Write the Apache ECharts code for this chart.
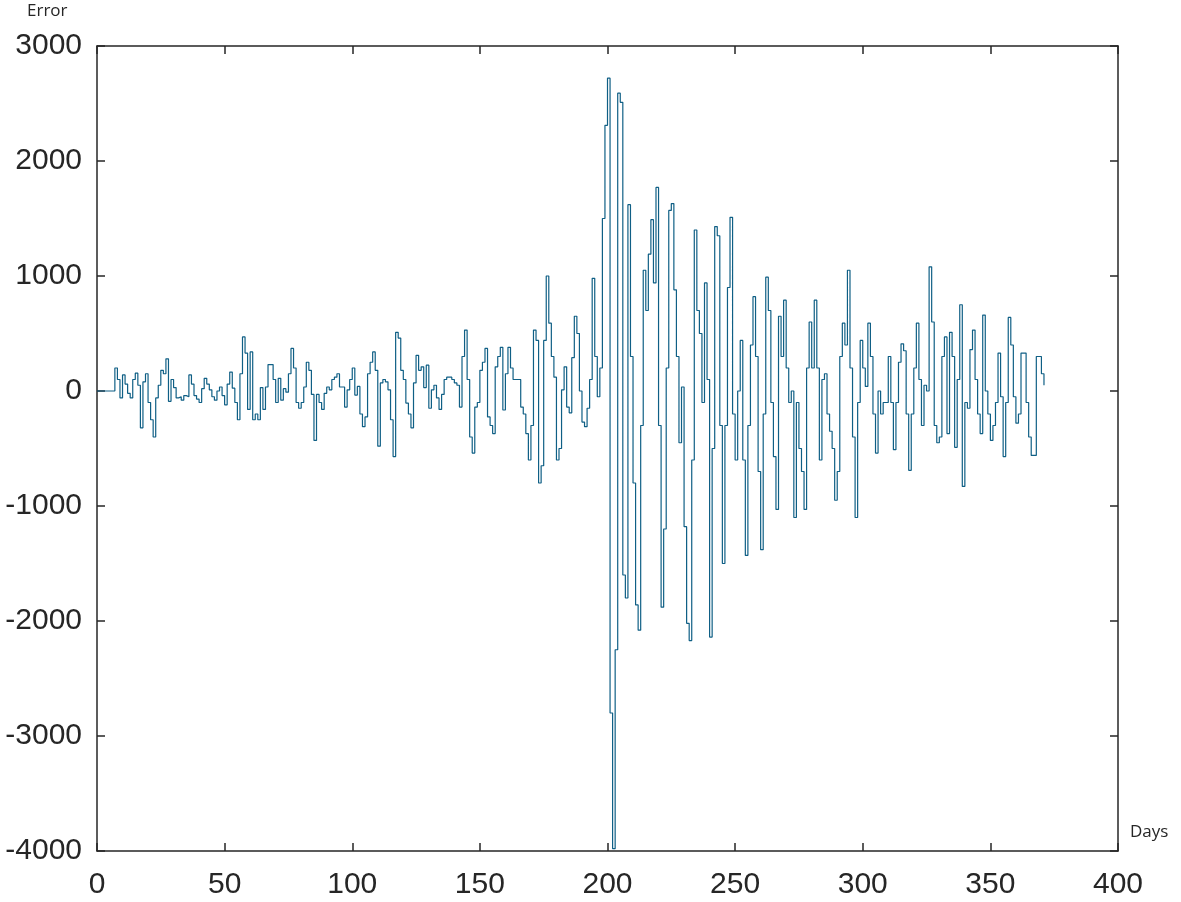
<!DOCTYPE html>
<html>
<head>
<meta charset="utf-8">
<script src="https://cdn.jsdelivr.net/npm/echarts@6/dist/echarts.min.js"></script>
<style>
html,body{margin:0;padding:0;background:#fff;}
#chart{width:1181px;height:902px;}
</style>
</head>
<body>
<div id="chart"></div>
<script>
// Error per day (day index 0..371)
const err000 = [0,0,0,0,0,0,0,200,100,-60, 140,60,-20,-60,100,155,50,-320,80,150,
  -100,-250,-400,-60,50,180,150,280,-90,100, 30,-60,-50,-80,-40,-50,140,60,-40,-70,
  -100,20,110,60,10,-50,-80,0,35,-40];
const err050 = [-120,60,165,25,-100,-250,150,470,330,-160, 340,-250,-200,-250,30,-160,35,230,230,100,
  -100,110,-80,20,-10,150,370,200,-100,-150, -100,35,250,180,-30,-430,-30,-100,-160,-20,
  35,10,100,120,150,35,35,-140,10,100];
const err100 = [200,-35,40,-200,-310,-225,150,250,340,180, -480,70,100,80,10,-250,-570,510,460,180,
  100,-105,-200,-320,70,310,180,210,30,225, -150,10,50,-60,-160,-30,100,120,120,100,
  70,50,-140,300,530,100,-400,-540,-140,-100];
const err150 = [180,250,370,-225,-300,-370,210,300,380,-165, 150,380,200,100,100,100,-140,-200,-370,-600,
  -300,530,440,-800,-650,440,1000,590,300,120, -600,-500,10,210,-140,-190,290,650,500,0,
  -270,-310,-150,100,980,300,-50,200,1500,2310];
const err200 = [2720,-2800,-3980,-2250,2590,2510,-1600,-1800,1620,300, -800,-1860,-2080,-300,1050,700,1190,1490,940,1770,
  -300,-1880,-1200,200,1570,1630,880,300,-450,35, -1180,-2020,-2170,-600,1400,700,500,-100,940,100,
  -2140,-500,1430,1350,-300,-1500,-300,900,1510,-200];
const err250 = [-600,0,440,-600,-1430,-300,400,820,300,-700, -1380,-200,990,700,-100,-570,-1030,650,300,790,
  200,-100,0,-1100,-100,-500,-700,-1030,200,600, 200,790,200,-600,100,150,-200,-350,-500,-950,
  -700,300,590,400,1050,200,-400,-1100,-100,440];
const err300 = [200,40,590,300,-200,-540,0,-200,-100,-100, 300,-100,-510,-100,250,410,350,-200,-690,-200,
  200,590,100,-300,50,0,1080,600,-300,-450, -400,300,470,-370,510,300,-490,100,750,-830,
  -100,-150,360,530,100,-200,-370,660,0,-200];
const err350 = [-430,-300,-100,330,-50,-570,-100,640,400,-50, -280,-200,330,330,-100,-400,-560,-560,300,300,
  150,50];

const xTicks = [0,50,100,150,200,250,300,350,400];
const yTicks = [-4000,-3000,-2000,-1000,0,1000,2000,3000];

const errors = [].concat(err000, err050, err100, err150, err200, err250, err300, err350);
const points = errors.map((v, i) => [i, v]);

const axisColor = '#262626';
const labelStyle = {color: '#262626', fontSize: 30, fontFamily: 'Liberation Sans, Arial, sans-serif'};
const plain = v => String(v);

const chart = echarts.init(document.getElementById('chart'), null, {renderer: 'canvas'});
chart.setOption({
  animation: false,
  backgroundColor: '#ffffff',
  grid: {left: 97, right: 63, top: 46, bottom: 51, containLabel: false},
  xAxis: [{
    type: 'value', min: xTicks[0], max: xTicks[xTicks.length-1], interval: 50, position: 'bottom',
    axisLine: {show: true, onZero: false, lineStyle: {color: axisColor, width: 1.5}},
    axisTick: {show: true, inside: true, length: 8, lineStyle: {color: axisColor, width: 1.5}},
    axisLabel: Object.assign({margin: 19, formatter: plain}, labelStyle),
    splitLine: {show: false}
  }, {
    type: 'value', min: xTicks[0], max: xTicks[xTicks.length-1], interval: 50, position: 'top',
    axisLine: {show: true, onZero: false, lineStyle: {color: axisColor, width: 1.5}},
    axisTick: {show: true, inside: true, length: 8, lineStyle: {color: axisColor, width: 1.5}},
    axisLabel: {show: false}, splitLine: {show: false}
  }],
  yAxis: [{
    type: 'value', min: yTicks[0], max: yTicks[yTicks.length-1], interval: 1000, position: 'left',
    axisLine: {show: true, onZero: false, lineStyle: {color: axisColor, width: 1.5}},
    axisTick: {show: true, inside: true, length: 8, lineStyle: {color: axisColor, width: 1.5}},
    axisLabel: Object.assign({margin: 15, formatter: plain}, labelStyle),
    splitLine: {show: false}
  }, {
    type: 'value', min: yTicks[0], max: yTicks[yTicks.length-1], interval: 1000, position: 'right',
    axisLine: {show: true, onZero: false, lineStyle: {color: axisColor, width: 1.5}},
    axisTick: {show: true, inside: true, length: 8, lineStyle: {color: axisColor, width: 1.5}},
    axisLabel: {show: false}, splitLine: {show: false}
  }],
  graphic: [
    {type: 'text', left: 27, top: 3, style: {text: 'Error', fontSize: 17, fill: '#262626', fontFamily: 'Open Sans, sans-serif'}},
    {type: 'text', left: 1130, top: 824, style: {text: 'Days', fontSize: 17, fill: '#262626', fontFamily: 'Open Sans, sans-serif'}}
  ],
  series: [{
    type: 'line',
    data: points,
    step: 'end',
    showSymbol: false,
    symbol: 'none',
    xAxisIndex: 0, yAxisIndex: 0,
    lineStyle: {color: '#0f5f85', width: 1.2},
    clip: true
  }]
});
</script>
</body>
</html>
